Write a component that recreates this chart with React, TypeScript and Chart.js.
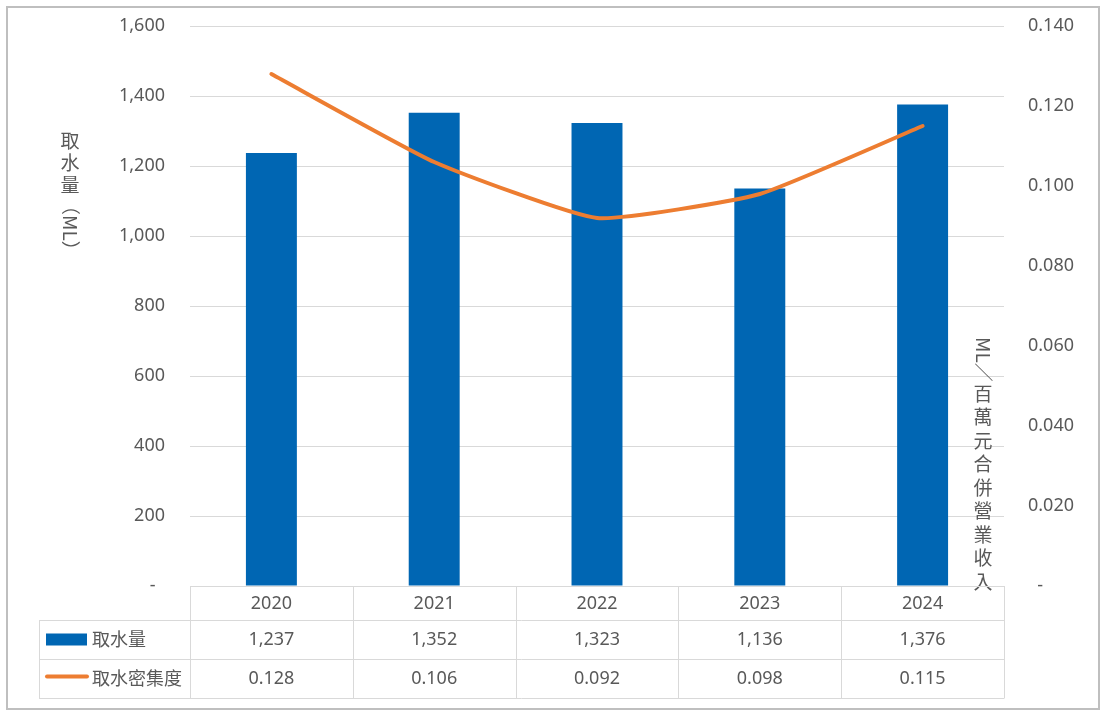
import React, { useEffect, useRef } from "react";
import { Chart, registerables } from "chart.js";

Chart.register(...registerables);

const categories = ["2020", "2021", "2022", "2023", "2024"];
const waterWithdrawal = [1237, 1352, 1323, 1136, 1376];
const waterIntensity = [0.128, 0.106, 0.092, 0.098, 0.115];
const seriesNames = ["取水量", "取水密集度"];
const leftAxisTitle = "取水量（ML）";
const rightAxisTitle = "ML／百萬元合併營業收入";
const leftAxisMax = 1600;
const leftAxisStep = 200;
const rightAxisMax = 0.14;
const rightAxisStep = 0.02;

const BAR_COLOR = "#0066B3";
const LINE_COLOR = "#ED7D31";
const TEXT_COLOR = "#595959";
const GRID_COLOR = "#d9d9d9";
const FONT_LATIN = "'Noto Sans', 'Noto Sans CJK TC', sans-serif";
const FONT_CJK = "'Noto Sans CJK TC', 'Noto Sans', sans-serif";

function drawVertical(ctx: CanvasRenderingContext2D, text: string, cx: number, startY: number, fontPx: number, stride: number) {
  ctx.save();
  ctx.font = `${fontPx}px ${FONT_CJK}`;
  ctx.fillStyle = TEXT_COLOR;
  ctx.textAlign = "center";
  ctx.textBaseline = "middle";
  let y = startY;
  for (const ch of Array.from(text)) {
    const rotated = /[A-Za-z0-9（）()／\/]/.test(ch);
    if (rotated) {
      const w = ctx.measureText(ch).width;
      ctx.save();
      ctx.translate(cx, y + w / 2);
      ctx.rotate(Math.PI / 2);
      ctx.fillText(ch, 0, 0);
      ctx.restore();
      y += w;
    } else {
      ctx.fillText(ch, cx, y + stride / 2);
      y += stride;
    }
  }
  ctx.restore();
}

const decorPlugin = {
  id: "decor",
  beforeDraw(chart: any) {
    const ctx = chart.ctx as CanvasRenderingContext2D;
    ctx.save();
    ctx.fillStyle = "#ffffff";
    ctx.fillRect(0, 0, chart.width, chart.height);
    ctx.restore();
  },
  afterDraw(chart: any) {
    const ctx = chart.ctx as CanvasRenderingContext2D;
    const { left, right, bottom } = chart.chartArea;
    const xs = chart.scales.x;

    // outer frame
    ctx.save();
    ctx.strokeStyle = "#bfbfbf";
    ctx.lineWidth = 2;
    ctx.strokeRect(7, 7, 1092, 702);
    ctx.restore();

    // axis titles
    drawVertical(ctx, leftAxisTitle, 70, 130, 19, 22);
    drawVertical(ctx, rightAxisTitle, 983, 337, 19, 23.5);

    // data table
    const n = categories.length;
    const bounds: number[] = [left];
    for (let i = 1; i < n; i++) {
      bounds.push((xs.getPixelForValue(i - 1) + xs.getPixelForValue(i)) / 2);
    }
    bounds.push(right);
    const top = bottom;
    const r1 = top + 34;
    const r2 = r1 + 39;
    const r3 = r2 + 39;
    const legendLeft = 39;

    ctx.save();
    ctx.strokeStyle = GRID_COLOR;
    ctx.lineWidth = 1;
    ctx.beginPath();
    const h = (y: number, x0: number, x1: number) => {
      ctx.moveTo(x0, Math.round(y) + 0.5);
      ctx.lineTo(x1, Math.round(y) + 0.5);
    };
    const v = (x: number, y0: number, y1: number) => {
      ctx.moveTo(Math.round(x) + 0.5, y0);
      ctx.lineTo(Math.round(x) + 0.5, y1);
    };
    h(top, left, right);
    h(r1, legendLeft, right);
    h(r2, legendLeft, right);
    h(r3, legendLeft, right);
    v(legendLeft, r1, r3 + 0.5);
    for (const b of bounds) v(b, top, r3 + 0.5);
    ctx.stroke();
    ctx.restore();

    ctx.save();
    ctx.fillStyle = TEXT_COLOR;
    ctx.font = `18px ${FONT_LATIN}`;
    ctx.textAlign = "center";
    ctx.textBaseline = "middle";
    for (let i = 0; i < n; i++) {
      const cx = (bounds[i] + bounds[i + 1]) / 2;
      ctx.fillText(categories[i], cx, (top + r1) / 2 + 1);
      ctx.fillText(waterWithdrawal[i].toLocaleString("en-US"), cx, (r1 + r2) / 2);
      ctx.fillText(waterIntensity[i].toFixed(3), cx, (r2 + r3) / 2);
    }
    // legend keys
    ctx.fillStyle = BAR_COLOR;
    ctx.fillRect(46, (r1 + r2) / 2 - 6, 41, 12);
    ctx.strokeStyle = LINE_COLOR;
    ctx.lineWidth = 4;
    ctx.lineCap = "round";
    ctx.beginPath();
    ctx.moveTo(47, (r2 + r3) / 2 - 2);
    ctx.lineTo(87, (r2 + r3) / 2 - 2);
    ctx.stroke();
    ctx.fillStyle = TEXT_COLOR;
    ctx.font = `18px ${FONT_CJK}`;
    ctx.textAlign = "left";
    ctx.fillText(seriesNames[0], 92, (r1 + r2) / 2);
    ctx.fillText(seriesNames[1], 92, (r2 + r3) / 2);
    ctx.restore();
  },
};

export default function App() {
  const ref = useRef<HTMLCanvasElement | null>(null);
  useEffect(() => {
    if (!ref.current) return;
    const chart = new Chart(ref.current, {
      type: "bar",
      data: {
        labels: categories,
        datasets: [
          {
            type: "line",
            label: seriesNames[1],
            data: waterIntensity,
            yAxisID: "y1",
            borderColor: LINE_COLOR,
            backgroundColor: LINE_COLOR,
            borderWidth: 4,
            pointRadius: 0,
            tension: 0.15,
            borderCapStyle: "round",
            order: 0,
          } as any,
          {
            type: "bar",
            label: seriesNames[0],
            data: waterWithdrawal,
            yAxisID: "y",
            backgroundColor: BAR_COLOR,
            categoryPercentage: 1,
            barPercentage: 0.313,
            order: 1,
          } as any,
        ],
      },
      options: {
        responsive: false,
        animation: false,
        layout: { padding: { top: 26, bottom: 131, left: 0, right: 0 } },
        plugins: { legend: { display: false }, tooltip: { enabled: false } },
        scales: {
          x: { display: false, offset: true },
          y: {
            position: "left",
            min: 0,
            max: leftAxisMax,
            border: { display: false },
            grid: { color: GRID_COLOR, lineWidth: 1, drawTicks: false },
            ticks: {
              stepSize: leftAxisStep,
              padding: 25,
              color: TEXT_COLOR,
              font: { family: FONT_LATIN, size: 18 },
              callback: (val: any) => (Number(val) === 0 ? "-  " : Number(val).toLocaleString("en-US")),
            },
            afterFit: (s: any) => {
              s.width = 190;
              s.paddingTop = 0;
              s.paddingBottom = 0;
            },
          },
          y1: {
            position: "right",
            min: 0,
            max: rightAxisMax,
            border: { display: false },
            grid: { display: false, drawTicks: false },
            ticks: {
              stepSize: rightAxisStep,
              padding: 24,
              color: TEXT_COLOR,
              font: { family: FONT_LATIN, size: 18 },
              callback: (val: any) => (Math.abs(Number(val)) < 1e-9 ? "  -" : Number(val).toFixed(3)),
            },
            afterFit: (s: any) => {
              s.width = 106;
              s.paddingTop = 0;
              s.paddingBottom = 0;
            },
          },
        },
      } as any,
      plugins: [decorPlugin],
    });
    return () => chart.destroy();
  }, []);
  return (
    <div style={{ position: "absolute", left: 0, top: 0, width: 1110, height: 717, background: "#fff" }}>
      <canvas ref={ref} width={1110} height={717} style={{ display: "block", width: 1110, height: 717 }} />
    </div>
  );
}
